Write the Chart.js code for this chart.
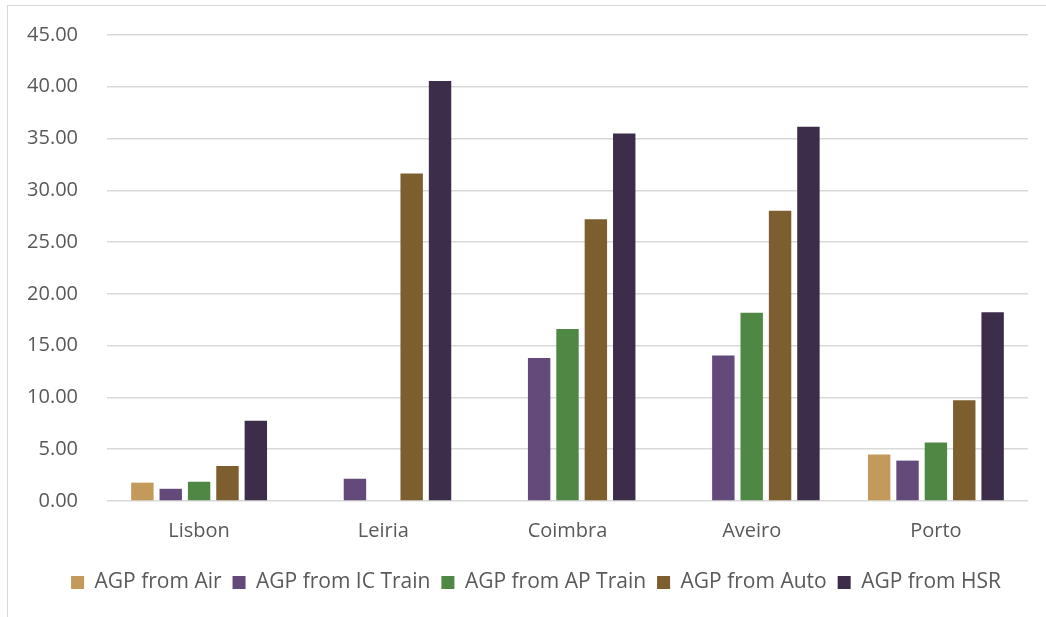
<!DOCTYPE html>
<html>
<head>
<meta charset="utf-8">
<script src="https://cdn.jsdelivr.net/npm/chart.js@4"></script>
<style>
  html, body { margin: 0; padding: 0; background: #fff; }
  #frame {
    position: absolute; left: 7px; top: 5px; width: 1100px; height: 700px;
    border-left: 1px solid #d9d9d9; border-top: 1px solid #d9d9d9;
  }
  #agpChart { position: absolute; left: 0; top: 0; }
</style>
</head>
<body>
<div id="frame"></div>
<canvas id="agpChart" width="1046" height="617"></canvas>
<script>
// Categories and values
const cities = ['Lisbon', 'Leiria', 'Coimbra', 'Aveiro', 'Porto'];
const agpAir = [1.77, null, null, null, 4.48];
const agpIcTrain = [1.18, 2.15, 13.80, 14.06, 3.90];
const agpApTrain = [1.86, null, 16.62, 18.17, 5.65];
const agpAuto = [3.38, 31.63, 27.20, 28.04, 9.73];
const agpHsr = [7.75, 40.56, 35.49, 36.13, 18.23];
const yTicks = [0, 5, 10, 15, 20, 25, 30, 35, 40, 45];

const textColor = '#595959';
const gridColor = '#d9d9d9';
const fontFamily = '"Open Sans", "Noto Sans", sans-serif';

function makeSet(label, data, color) {
  return {
    label: label,
    data: data,
    backgroundColor: color,
    borderWidth: 0,
    categoryPercentage: 0.77,
    barPercentage: 0.79
  };
}

// legend in the reference sits a bit right of the canvas centre
const legendShift = {
  id: 'legendShift',
  afterLayout(chart) {
    if (chart.legend) {
      chart.legend.left += 12;
      chart.legend.right += 12;
    }
  }
};

const ctx = document.getElementById('agpChart').getContext('2d');

const agpChart = new Chart(ctx, {
  type: 'bar',
  data: {
    labels: cities,
    datasets: [
      makeSet('AGP from Air', agpAir, '#C39A5B'),
      makeSet('AGP from IC Train', agpIcTrain, '#634A7A'),
      makeSet('AGP from AP Train', agpApTrain, '#4F8744'),
      makeSet('AGP from Auto', agpAuto, '#7C5E2F'),
      makeSet('AGP from HSR', agpHsr, '#3C2D4A')
    ]
  },
  options: {
    responsive: false,
    animation: false,
    layout: {
      padding: { left: 20, right: 18, top: 35, bottom: 14 }
    },
    plugins: {
      legend: {
        display: true,
        position: 'bottom',
        labels: {
          boxWidth: 13,
          boxHeight: 13,
          padding: 11,
          color: textColor,
          font: { family: fontFamily, size: 21 }
        }
      },
      tooltip: { enabled: false }
    },
    scales: {
      x: {
        grid: { display: false, drawTicks: false },
        border: { display: false },
        afterFit: function(scale) {
          scale.paddingLeft = 0;
          scale.paddingRight = 0;
        },
        ticks: {
          color: textColor,
          padding: 18,
          font: { family: fontFamily, size: 20 }
        }
      },
      y: {
        min: yTicks[0],
        max: yTicks[yTicks.length - 1],
        afterBuildTicks: function(scale) {
          scale.ticks = yTicks.map(v => ({ value: v }));
        },
        afterFit: function(scale) {
          scale.width = 87;
          scale.paddingTop = 0;
          scale.paddingBottom = 0;
        },
        grid: { color: gridColor, lineWidth: 1.5, drawTicks: false },
        border: { display: false },
        ticks: {
          color: textColor,
          padding: 29,
          font: { family: fontFamily, size: 20 },
          callback: function(value) {
            return Number(value).toFixed(2);
          }
        }
      }
    }
  },
  plugins: [legendShift]
});
</script>
</body>
</html>
